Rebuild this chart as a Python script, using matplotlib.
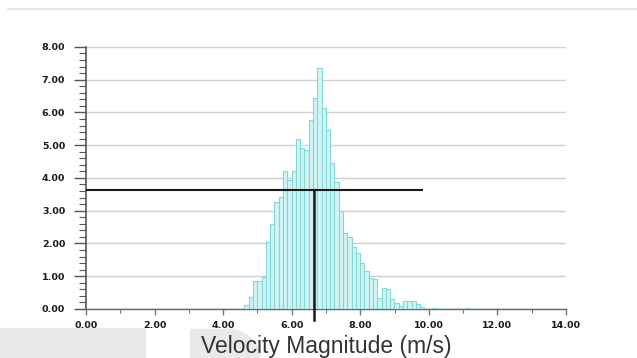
import numpy as np
import matplotlib
matplotlib.use("Agg")
import matplotlib.pyplot as plt
from matplotlib.patches import Rectangle, Ellipse
from matplotlib.ticker import MultipleLocator

# histogram of velocity magnitude (% of samples per bin)
bin_start = 4.62
bin_width = 0.125
heights = [0.12, 0.37, 0.84, 0.84, 0.98, 2.05, 2.60, 3.25, 3.42, 4.22,
           3.95, 4.22, 5.20, 4.90, 4.85, 5.78, 6.44, 7.36, 6.13, 5.47,
           4.46, 3.89, 2.98, 2.33, 2.21, 1.90, 1.72, 1.40, 1.15, 0.93,
           0.92, 0.33, 0.63, 0.60, 0.30, 0.17, 0.08, 0.24, 0.25, 0.24,
           0.15, 0.05]
# isolated tiny bins far in the tail
tail_x = [10.10, 11.05]
tail_h = [0.03, 0.04]

# marker lines (value level and velocity)
level = 3.62
mark_v = 6.65
level_end = 9.8

x_ticks = np.arange(0, 15, 2)
y_ticks = np.arange(0, 9, 1)

fill_c = "#d3f3f3"
edge_c = "#7fd9d9"

fig = plt.figure(figsize=(6.37, 3.58), dpi=100)
ax = fig.add_axes([0.135, 0.137, 0.7535, 0.732])

lefts = bin_start + bin_width * np.arange(len(heights))
ax.bar(lefts, heights, width=bin_width, align="edge", color=fill_c,
       edgecolor=edge_c, linewidth=0.8, zorder=3)
ax.bar(tail_x, tail_h, width=bin_width, align="edge", color=fill_c,
       edgecolor=edge_c, linewidth=0.8, zorder=3)
# cyan baseline of the histogram
ax.plot([0, 12.9], [0, 0], color=edge_c, lw=1.0, zorder=4)

ax.plot([0, level_end], [level, level], color="#1a1a1a", lw=1.5, zorder=5)
ax.plot([mark_v, mark_v], [level, -0.35], color="#1a1a1a", lw=1.8,
        zorder=5, clip_on=False)

ax.set_xlim(0, 14)
ax.set_ylim(0, 8)
ax.set_xticks(x_ticks)
ax.set_yticks(y_ticks)
ax.xaxis.set_minor_locator(MultipleLocator(1))
ax.yaxis.set_minor_locator(MultipleLocator(0.2))
ax.set_xticklabels([f"{v:.2f}" for v in x_ticks])
ax.set_yticklabels([f"{v:.2f}" for v in y_ticks])

for lab in ax.get_xticklabels() + ax.get_yticklabels():
    lab.set_fontfamily("DejaVu Sans")
    lab.set_fontweight("bold")
    lab.set_fontsize(6.8)
    lab.set_color("#1a1a1a")

ax.tick_params(axis="y", which="major", length=9, width=1, color="#555555", pad=6)
ax.tick_params(axis="y", which="minor", length=5, width=0.8, color="#555555")
ax.tick_params(axis="x", which="major", length=4, width=1, color="#777777", pad=5)
ax.tick_params(axis="x", which="minor", length=3, width=0.8, color="#777777")

ax.grid(axis="y", color="#d0d0d0", lw=1.0, zorder=0)
ax.set_axisbelow(True)
for s in ["top", "right"]:
    ax.spines[s].set_visible(False)
ax.spines["left"].set_color("#555555")
ax.spines["left"].set_linewidth(1.2)
ax.spines["bottom"].set_color("#666666")
ax.spines["bottom"].set_linewidth(1.0)

ax.set_xlabel("Velocity Magnitude (m/s)", fontfamily="Liberation Sans",
              fontsize=16.5, color="#333333", labelpad=3)

# page decorations around the screenshot
fig.add_artist(plt.Line2D([0.012, 1.0], [0.974, 0.974], color="#e2e2e2", lw=1.2))
fig.add_artist(Rectangle((0.0, 0.0), 0.228, 0.083, transform=fig.transFigure,
                         color="#e9e9e9", zorder=0))
fig.add_artist(Rectangle((0.298, 0.0), 0.06, 0.08, transform=fig.transFigure,
                         color="#e9e9e9", zorder=0))
fig.add_artist(Ellipse((0.358, 0.0), 0.1, 0.16, transform=fig.transFigure,
                       color="#e9e9e9", zorder=0))

fig.savefig("out.png", dpi=100)
